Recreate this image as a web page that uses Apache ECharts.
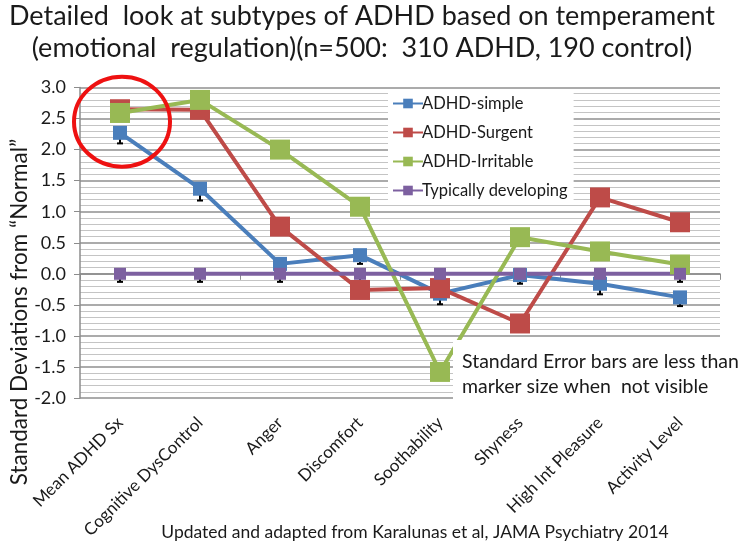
<!DOCTYPE html>
<html><head><meta charset="utf-8">
<script src="https://cdn.jsdelivr.net/npm/echarts@6/dist/echarts.min.js"></script>
<style>html,body{margin:0;padding:0;background:#fff}#c{width:742px;height:543px}</style>
</head><body><div id="c"></div>
<script>
const categories = ['Mean ADHD Sx','Cognitive DysControl','Anger','Discomfort','Soothability','Shyness','High Int Pleasure','Activity Level'];
const simple    = [2.27, 1.37, 0.16, 0.30, -0.32, -0.02, -0.16, -0.38];
const surgent   = [2.65, 2.64, 0.76, -0.26, -0.23, -0.80, 1.23, 0.83];
const irritable = [2.59, 2.80, 2.00, 1.08, -1.58, 0.59, 0.36, 0.15];
const typical   = [0, 0, 0, 0, 0, 0, 0, 0];
const simpleErr  = [0.17, 0.19, 0.16, 0.14, 0.17, 0.14, 0.17, 0.14];
const typicalErr = [0.13, 0.13, 0.13, 0.12, 0.13, 0.12, 0.13, 0.13];
const yTicks = { min: -2, max: 3, step: 0.5 };
const FONT = 'Lato';

const chart = echarts.init(document.getElementById('c'));

function errSeries(vals, errs) {
  return {
    type: 'custom', xAxisIndex: 0, yAxisIndex: 0, silent: true, z: 1,
    data: vals.map((v, i) => [i, v, errs[i]]),
    renderItem: function (params, api) {
      const x = api.value(0), v = api.value(1), e = api.value(2);
      const lo = api.coord([x, v - e]), mid = api.coord([x, v]);
      const s = { stroke: '#000', lineWidth: 2 };
      return { type: 'group', children: [
        { type: 'line', shape: { x1: lo[0], y1: lo[1], x2: mid[0], y2: mid[1] }, style: s },
        { type: 'line', shape: { x1: lo[0] - 3, y1: lo[1], x2: lo[0] + 3, y2: lo[1] }, style: s }
      ]};
    }
  };
}

function lineSeries(name, data, color, size) {
  return {
    name: name, type: 'line', data: data, xAxisIndex: 0, yAxisIndex: 0,
    symbol: 'rect', symbolSize: size, showAllSymbol: true,
    lineStyle: { color: color, width: 4 },
    itemStyle: { color: color },
    emphasis: { disabled: true }, z: 3
  };
}

const option = {
  animation: false,
  backgroundColor: '#fff',
  textStyle: { fontFamily: FONT },
  title: [
    { text: 'Detailed  look at subtypes of ADHD based on temperament\n(emotional  regulation)(n=500:  310 ADHD, 190 control)',
      left: 357, top: -5, textAlign: 'center',
      textStyle: { fontFamily: FONT, fontSize: 27, fontWeight: 'normal', color: '#1a1a1a', lineHeight: 32, align: 'center' } },
    { text: 'Updated and adapted from Karalunas et al, JAMA Psychiatry 2014',
      left: 410, top: 518, textAlign: 'center',
      textStyle: { fontFamily: FONT, fontSize: 17.5, fontWeight: 'normal', color: '#1a1a1a' } }
  ],
  grid: { left: 80, right: 22, top: 87.5, bottom: 145, containLabel: false },
  legend: {
    orient: 'vertical', left: 388, top: 92, itemGap: 12,
    itemWidth: 30, itemHeight: 12,
    backgroundColor: '#fff', padding: [3, 6, 6, 4],
    textStyle: { fontFamily: FONT, fontSize: 16.5, color: '#1a1a1a', padding: [0, 0, 0, -6] },
    data: ['ADHD-simple', 'ADHD-Surgent', 'ADHD-Irritable', 'Typically developing']
  },
  xAxis: [
    { type: 'category', data: categories, position: 'bottom', boundaryGap: true,
      axisLine: { show: false, onZero: false }, axisTick: { show: false },
      axisLabel: { rotate: 45, fontFamily: FONT, fontSize: 17, color: '#1a1a1a', margin: 22, interval: 0 },
      splitLine: { show: false } },
    { type: 'category', data: categories, position: 'top', boundaryGap: true,
      axisLine: { show: true, onZero: true, lineStyle: { color: '#8c8c8c', width: 1.5 } },
      axisTick: { show: true, inside: true, length: 6, lineStyle: { color: '#8c8c8c' } },
      axisLabel: { show: false }, splitLine: { show: false } }
  ],
  yAxis: {
    type: 'value', min: yTicks.min, max: yTicks.max, interval: yTicks.step,
    axisLine: { show: true, lineStyle: { color: '#8c8c8c', width: 1.5 } },
    axisTick: { show: true, length: 6, lineStyle: { color: '#8c8c8c' } },
    axisLabel: { fontFamily: FONT, fontSize: 18, color: '#1a1a1a', margin: 14,
      formatter: v => v.toFixed(1) },
    splitLine: { show: true, lineStyle: { color: '#8f8f8f', width: 1.5 } },
    minorTick: { show: false, splitNumber: 5 },
    minorSplitLine: { show: true, lineStyle: { color: '#c4c4c4', width: 1 } }
  },
  series: [
    errSeries(simple, simpleErr),
    errSeries(typical, typicalErr),
    lineSeries('ADHD-simple', simple, '#4a7ebb', 14),
    lineSeries('ADHD-Surgent', surgent, '#be4b48', 20),
    lineSeries('ADHD-Irritable', irritable, '#98b954', 20),
    lineSeries('Typically developing', typical, '#7d60a0', 12)
  ]
};
chart.setOption(option);

const c = chart.convertToPixel({ xAxisIndex: 0, yAxisIndex: 0 }, [0, 2.45]);
chart.setOption({
  graphic: [
    { type: 'text', x: 20, y: 312, rotation: Math.PI / 2, z: 10,
      style: { text: 'Standard Deviations from \u201CNormal\u201D', fontFamily: FONT, fontSize: 22.5,
        fill: '#1a1a1a', align: 'center', verticalAlign: 'middle' } },
    { type: 'rect', left: 453, top: 340, z: 20, shape: { width: 289, height: 60 },
      style: { fill: '#fff' } },
    { type: 'text', left: 462, top: 349, z: 21,
      style: { text: 'Standard Error bars are less than\nmarker size when  not visible', fontFamily: FONT,
        fontSize: 19.5, lineHeight: 25, fill: '#1a1a1a' } },
    { type: 'ellipse', z: 30, shape: { cx: c[0] + 2, cy: c[1], rx: 48, ry: 45 },
      style: { fill: 'none', stroke: '#ee1111', lineWidth: 4 } }
  ]
});
</script></body></html>
